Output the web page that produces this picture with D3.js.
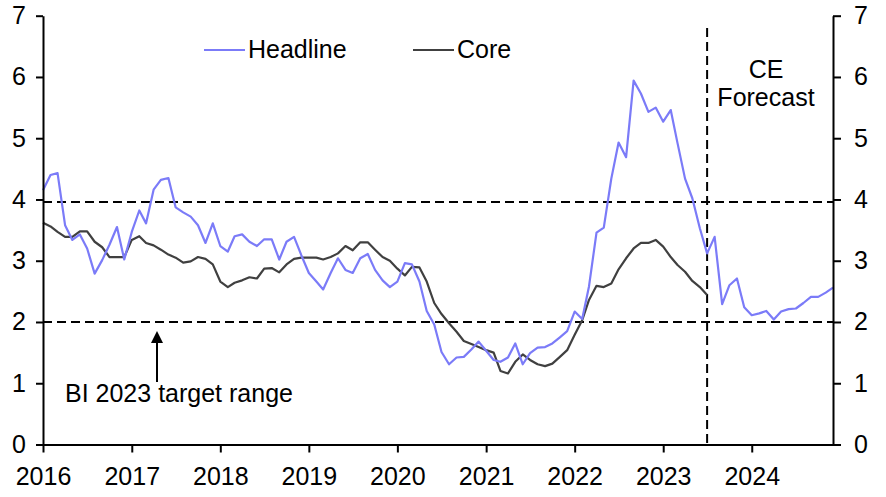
<!DOCTYPE html>
<html>
<head>
<meta charset="utf-8">
<script src="https://cdn.jsdelivr.net/npm/d3@7"></script>
<style>
  body { margin: 0; background: #fff; }
  svg { display: block; font-family: "Liberation Sans", Arial, sans-serif; }
</style>
</head>
<body>
<svg id="chart"></svg>
<script>
// monthly y/y inflation, Jan 2016 onward
const startMonth = new Date(2016, 0, 1);
const endMonth = new Date(2024, 11, 1);
const forecastStart = new Date(2023, 6, 1);

const headline = [
  4.15, 4.40, 4.43, 3.58, 3.34, 3.43, 3.20, 2.79, 3.01, 3.26, 3.55, 3.02,
  3.47, 3.82, 3.61, 4.16, 4.32, 4.35, 3.87, 3.79, 3.72, 3.58, 3.29, 3.61,
  3.24, 3.15, 3.40, 3.43, 3.31, 3.24, 3.35, 3.35, 3.02, 3.31, 3.39, 3.09,
  2.80, 2.66, 2.53, 2.80, 3.04, 2.85, 2.80, 3.04, 3.11, 2.85, 2.68, 2.57,
  2.66, 2.96, 2.94, 2.66, 2.18, 1.96, 1.51, 1.31, 1.42, 1.43, 1.55, 1.68,
  1.53, 1.38, 1.35, 1.42, 1.65, 1.31, 1.49, 1.58, 1.59, 1.65, 1.75, 1.85,
  2.17, 2.05, 2.58, 3.46, 3.54, 4.34, 4.93, 4.69, 5.94, 5.73, 5.43, 5.50,
  5.27, 5.46, 4.92, 4.34, 4.02, 3.53, 3.12, 3.39, 2.29, 2.60, 2.71, 2.24,
  2.11, 2.14, 2.18, 2.04, 2.17, 2.21, 2.22, 2.31, 2.41, 2.41, 2.48, 2.56
];

const core = [
  3.62, 3.56, 3.47, 3.39, 3.39, 3.48, 3.48, 3.31, 3.22, 3.06, 3.06, 3.06,
  3.34, 3.40, 3.29, 3.25, 3.18, 3.10, 3.05, 2.97, 2.99, 3.06, 3.03, 2.94,
  2.66, 2.57, 2.64, 2.68, 2.73, 2.71, 2.87, 2.88, 2.81, 2.94, 3.03, 3.05,
  3.05, 3.05, 3.02, 3.06, 3.12, 3.24, 3.17, 3.30, 3.30, 3.18, 3.06, 3.00,
  2.87, 2.76, 2.90, 2.89, 2.66, 2.31, 2.13, 1.98, 1.84, 1.69, 1.64, 1.59,
  1.54, 1.50, 1.20, 1.16, 1.35, 1.47, 1.38, 1.31, 1.28, 1.32, 1.43, 1.54,
  1.79, 2.03, 2.36, 2.59, 2.57, 2.63, 2.86, 3.04, 3.20, 3.29, 3.29, 3.34,
  3.23, 3.06, 2.93, 2.82, 2.67, 2.57, 2.44
];

const targetRange = [2, 3.96];
const yTicks = [0, 1, 2, 3, 4, 5, 6, 7];
const xTickYears = [2016, 2017, 2018, 2019, 2020, 2021, 2022, 2023, 2024];

const width = 886, height = 497;
const plot = { left: 43, right: 833, top: 15.7, bottom: 444.5 };
const fontSize = 25;

const svg = d3.select('#chart')
  .attr('width', width)
  .attr('height', height);

const x = d3.scaleTime().domain([startMonth, endMonth]).range([plot.left, plot.right]);
const y = d3.scaleLinear().domain([0, 7]).range([plot.bottom, plot.top]);

const toPoints = (vals) => vals.map((v, i) => ({ date: d3.timeMonth.offset(startMonth, i), v }));

// target range dashes
svg.selectAll('.target')
  .data(targetRange)
  .enter()
  .append('line')
  .attr('class', 'target')
  .attr('x1', plot.left).attr('x2', plot.right)
  .attr('y1', d => y(d)).attr('y2', d => y(d))
  .style('stroke', '#000')
  .style('stroke-width', 2)
  .style('stroke-dasharray', '9,5');

// forecast divider
svg.append('line')
  .attr('x1', x(forecastStart)).attr('x2', x(forecastStart))
  .attr('y1', 28).attr('y2', plot.bottom)
  .style('stroke', '#000')
  .style('stroke-width', 2)
  .style('stroke-dasharray', '9,5');

const line = d3.line().x(d => x(d.date)).y(d => y(d.v));

svg.append('path')
  .datum(toPoints(core))
  .attr('d', line)
  .style('fill', 'none')
  .style('stroke', '#404040')
  .style('stroke-width', 2.2)
  .style('stroke-linejoin', 'round');

svg.append('path')
  .datum(toPoints(headline))
  .attr('d', line)
  .style('fill', 'none')
  .style('stroke', '#7b7bf8')
  .style('stroke-width', 2.2)
  .style('stroke-linejoin', 'round');

// axes
const styleAxis = (g) => {
  g.select('.domain').style('stroke', '#000').style('stroke-width', 2);
  g.selectAll('.tick line').style('stroke', '#000').style('stroke-width', 2);
  g.selectAll('.tick text')
    .style('font-size', fontSize + 'px')
    .style('font-family', '"Liberation Sans", Arial, sans-serif')
    .style('fill', '#000');
};

svg.append('g')
  .attr('transform', `translate(${plot.left},0)`)
  .call(d3.axisLeft(y).tickValues(yTicks).tickFormat(d3.format('d'))
    .tickSize(7).tickPadding(10).tickSizeOuter(0))
  .call(styleAxis);

svg.append('g')
  .attr('transform', `translate(${plot.right},0)`)
  .call(d3.axisRight(y).tickValues(yTicks).tickFormat(d3.format('d'))
    .tickSize(8).tickPadding(13).tickSizeOuter(0))
  .call(styleAxis);

svg.append('g')
  .attr('transform', `translate(0,${plot.bottom})`)
  .call(d3.axisBottom(x)
    .tickValues(xTickYears.map(yr => new Date(yr, 0, 1)))
    .tickFormat(d3.timeFormat('%Y'))
    .tickSize(8).tickPadding(15).tickSizeOuter(0))
  .call(styleAxis);

// legend
const legend = [
  { name: 'Headline', color: '#7b7bf8', x: 204 },
  { name: 'Core', color: '#404040', x: 413 }
];
const lg = svg.selectAll('.legend').data(legend).enter()
  .append('g').attr('class', 'legend');
lg.append('line')
  .attr('x1', d => d.x).attr('x2', d => d.x + 41)
  .attr('y1', 50).attr('y2', 50)
  .style('stroke', d => d.color)
  .style('stroke-width', 2.2);
lg.append('text')
  .attr('x', d => d.x + 44)
  .attr('y', 58)
  .attr('font-size', fontSize)
  .text(d => d.name);

// annotations
const note = svg.append('text')
  .attr('text-anchor', 'middle')
  .attr('font-size', fontSize);
note.append('tspan').attr('x', 766).attr('y', 78).text('CE');
note.append('tspan').attr('x', 766).attr('y', 106).text('Forecast');

svg.append('text')
  .attr('x', 65)
  .attr('y', 402)
  .attr('font-size', fontSize)
  .text('BI 2023 target range');

svg.append('line')
  .attr('x1', 157).attr('x2', 157)
  .attr('y1', 382).attr('y2', 342)
  .style('stroke', '#000')
  .style('stroke-width', 2);
svg.append('path')
  .attr('d', 'M157,331 L151,343 L163,343 Z')
  .style('fill', '#000');
</script>
</body>
</html>
